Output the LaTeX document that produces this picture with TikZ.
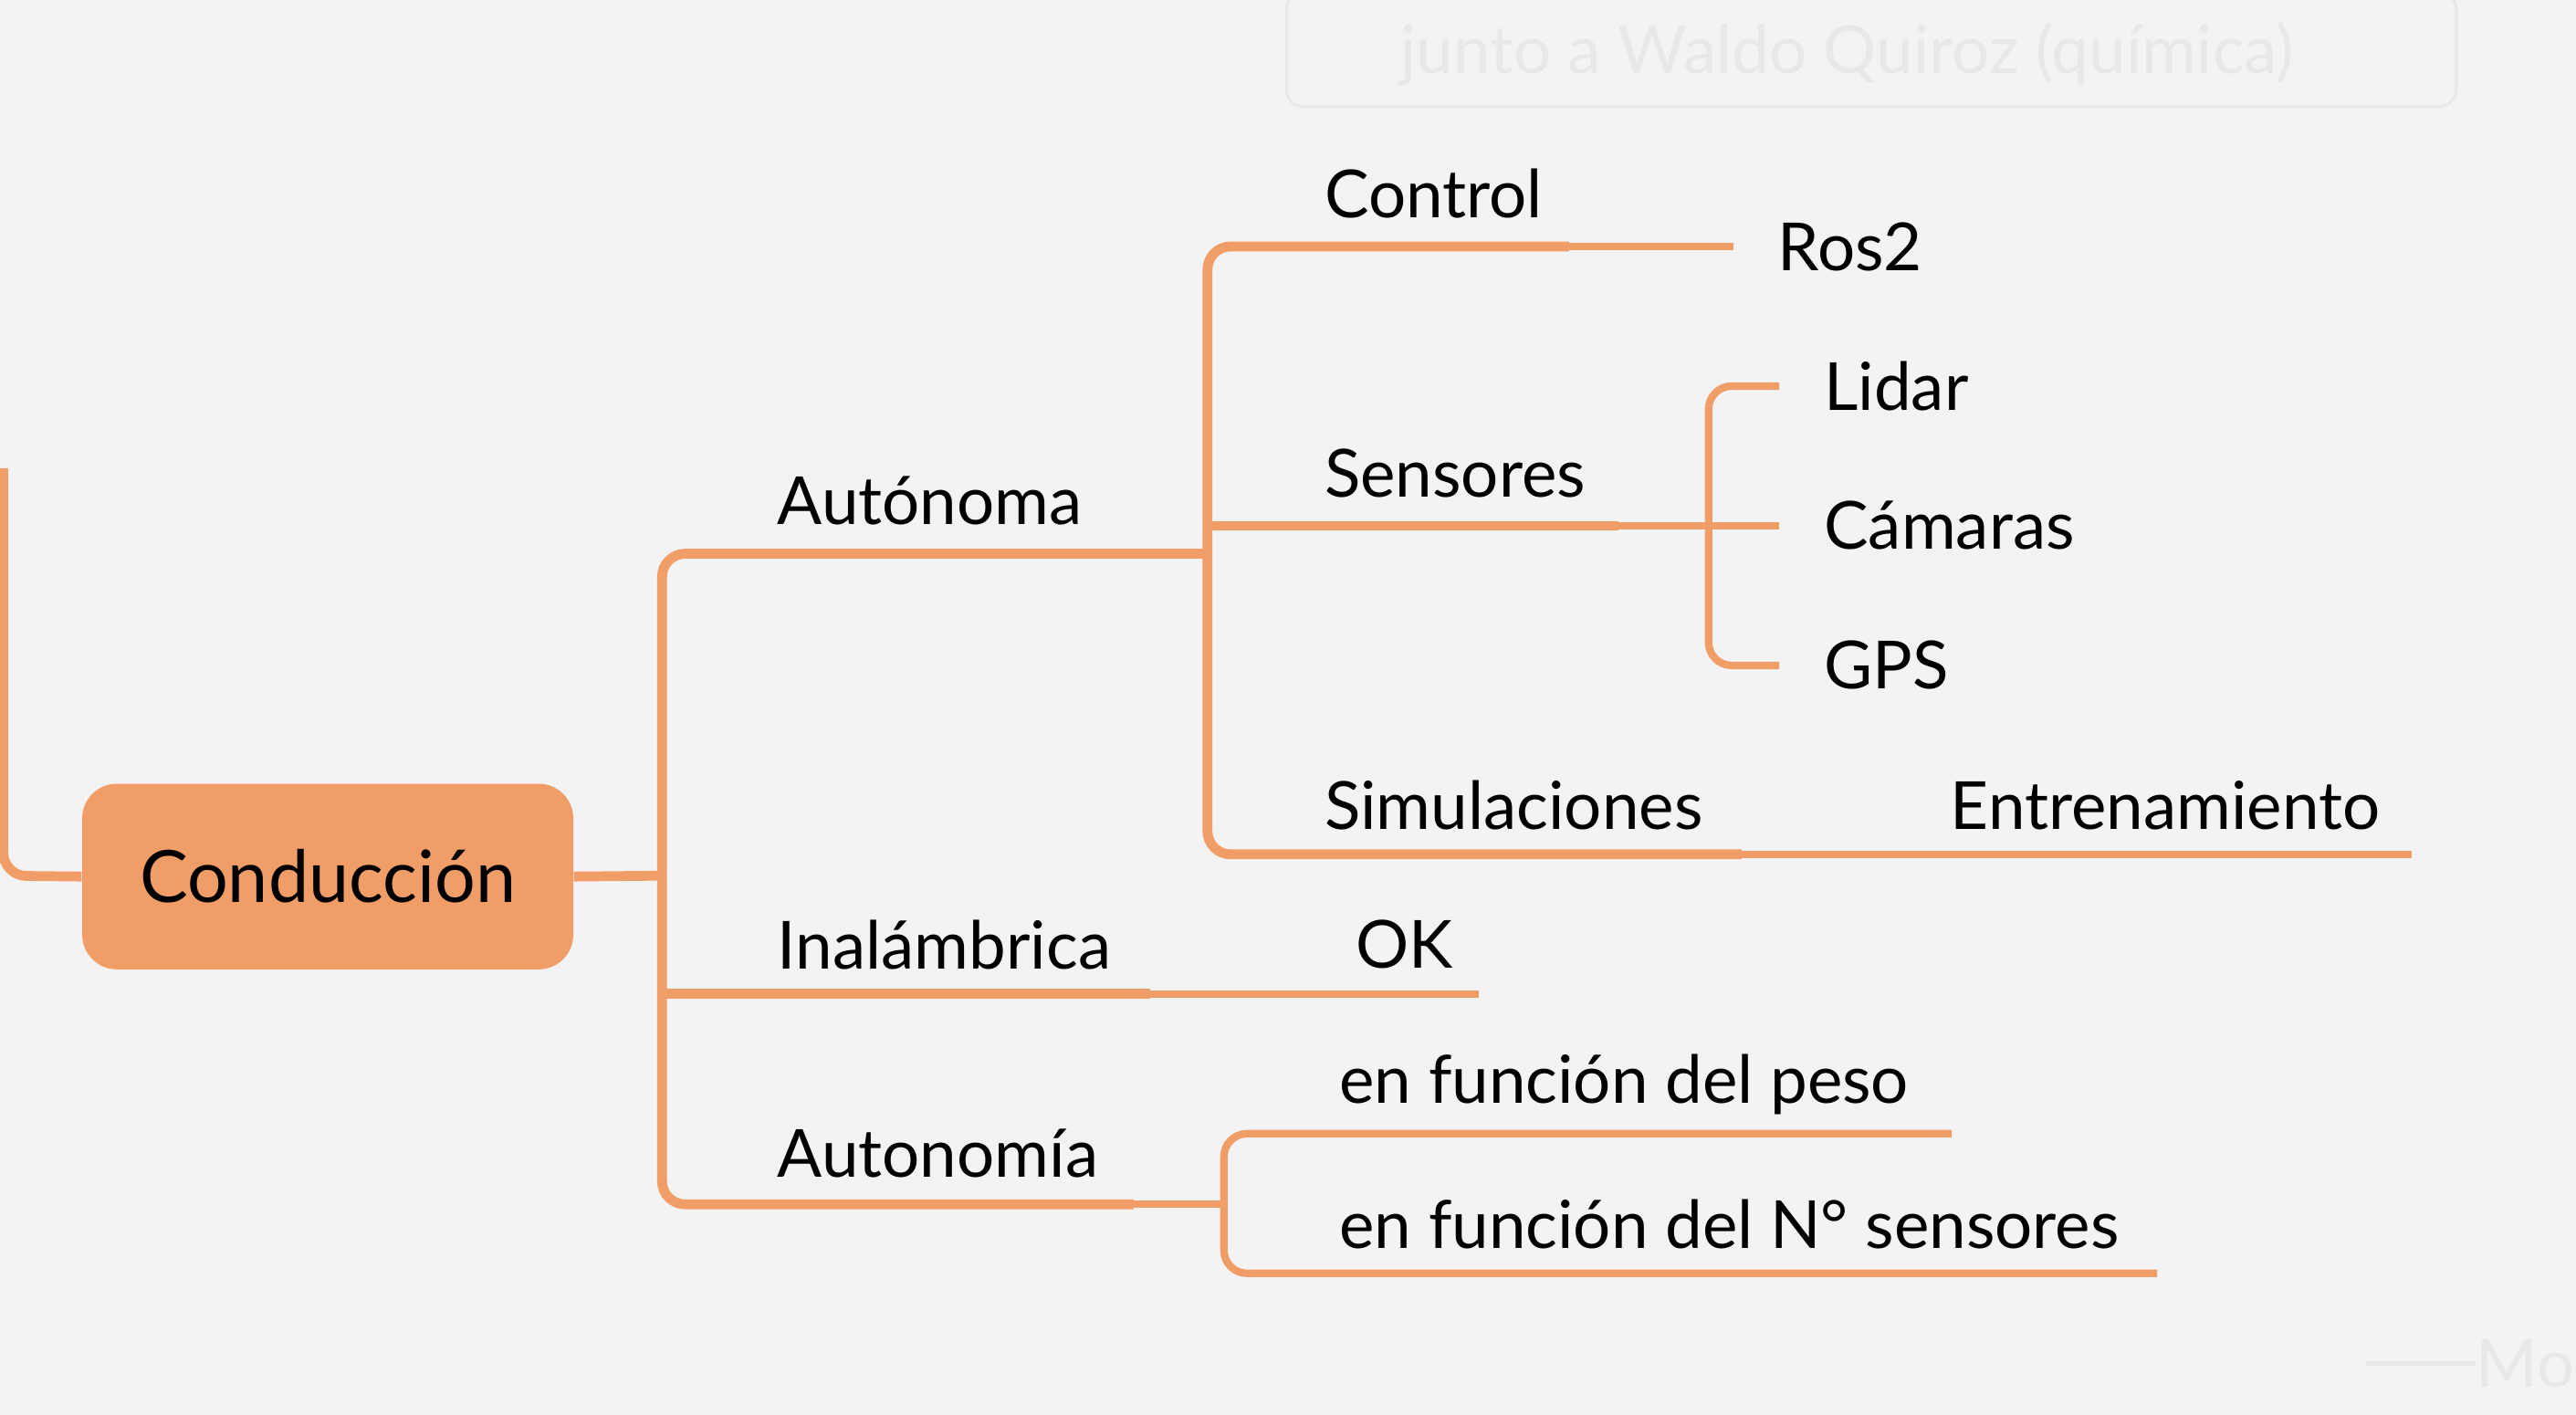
\documentclass[tikz,border=0pt]{standalone}
\usepackage{fontspec}
\setmainfont{Lato}
\usetikzlibrary{positioning}
\definecolor{branch}{RGB}{241,157,104}
\definecolor{bg}{RGB}{243,243,243}
\definecolor{faint}{RGB}{232,232,232}
\tikzset{
  main/.style={draw=branch, line width=3.4pt, rounded corners=8pt},
  sub/.style={draw=branch, line width=2.6pt, rounded corners=8pt},
  lbl/.style={anchor=west, inner sep=0pt, font=\fontsize{23}{23}\selectfont},
  root/.style={fill=branch, rounded corners=12pt, minimum width=5.98cm, minimum height=2.26cm, font=\fontsize{25}{25}\selectfont}
}
\begin{document}
\begin{tikzpicture}[x=0.02cm, y=-0.02cm]
  \fill[bg] (0,0) rectangle (1568,861);
  \useasboundingbox (0,0) rectangle (1568,861);
  % faded neighbours
  \draw[faint, line width=1pt, rounded corners=6pt] (783,-5) rectangle (1495,65);
  \node[lbl, text=faint] (quiroz) at (852,33) {junto a Waldo Quiroz (química)};
  \node[lbl, text=faint] (mo) at (1507,830) {Mo};
  \draw[faint, line width=1.5pt] (1440,830) -- (mo.west);
  % root
  \node[root] (cond) at (199.5,533.5) {Conducción};
  \coordinate (up) at (2,285);
  \draw[main] (up) -- (2,533) -- (cond.west);
  % level 1
  \node[lbl] (auto) at (473,305) {Autónoma};
  \node[lbl] (inal) at (473,575) {Inalámbrica};
  \node[lbl] (anom) at (473,702) {Autonomía};
  \coordinate (autoE) at (680,337);
  \coordinate (inalE) at (700,605);
  \coordinate (anomE) at (690,733);
  \draw[main] (cond.east) -- (400,533);
  \draw[main] (autoE) -- (403,337) -- (403,733) -- (anomE);
  \draw[main, rounded corners=0pt] (403,605) -- (inalE);
  % Autonoma
  \node[lbl] (ctrl) at (806,118) {Control};
  \node[lbl] (sens) at (806,288) {Sensores};
  \node[lbl] (simu) at (806,490) {Simulaciones};
  \coordinate (ctrlE) at (955,150);
  \coordinate (sensE) at (985,320);
  \coordinate (simuE) at (1060,520);
  \draw[main] (autoE) -- (735,337);
  \draw[main] (ctrlE) -- (735,150) -- (735,520) -- (simuE);
  \draw[main, rounded corners=0pt] (735,320) -- (sensE);
  % Control
  \node[lbl] (ros) at (1082,150) {Ros2};
  \draw[sub] (ctrlE) -- (1055,150);
  % Sensores
  \node[lbl] (lidar) at (1110,235) {Lidar};
  \node[lbl] (cam) at (1110,320) {Cámaras};
  \node[lbl] (gps) at (1110,405) {GPS};
  \draw[sub] (sensE) -- (1040,320);
  \draw[sub] (1083,235) -- (1040,235) -- (1040,405) -- (1083,405);
  \draw[sub, rounded corners=0pt] (1040,320) -- (1083,320);
  % Simulaciones
  \node[lbl] (entr) at (1187,490) {Entrenamiento};
  \draw[sub] (simuE) -- (1468,520);
  % Inalambrica
  \node[lbl] (ok) at (825,575) {OK};
  \draw[sub] (inalE) -- (900,605);
  % Autonomia
  \node[lbl] (peso) at (815,660) {en función del peso};
  \node[lbl] (nsen) at (815,745) {en función del N° sensores};
  \draw[sub] (anomE) -- (745,733);
  \draw[sub] (1188,690) -- (745,690) -- (745,775) -- (1313,775);
\end{tikzpicture}
\end{document}
